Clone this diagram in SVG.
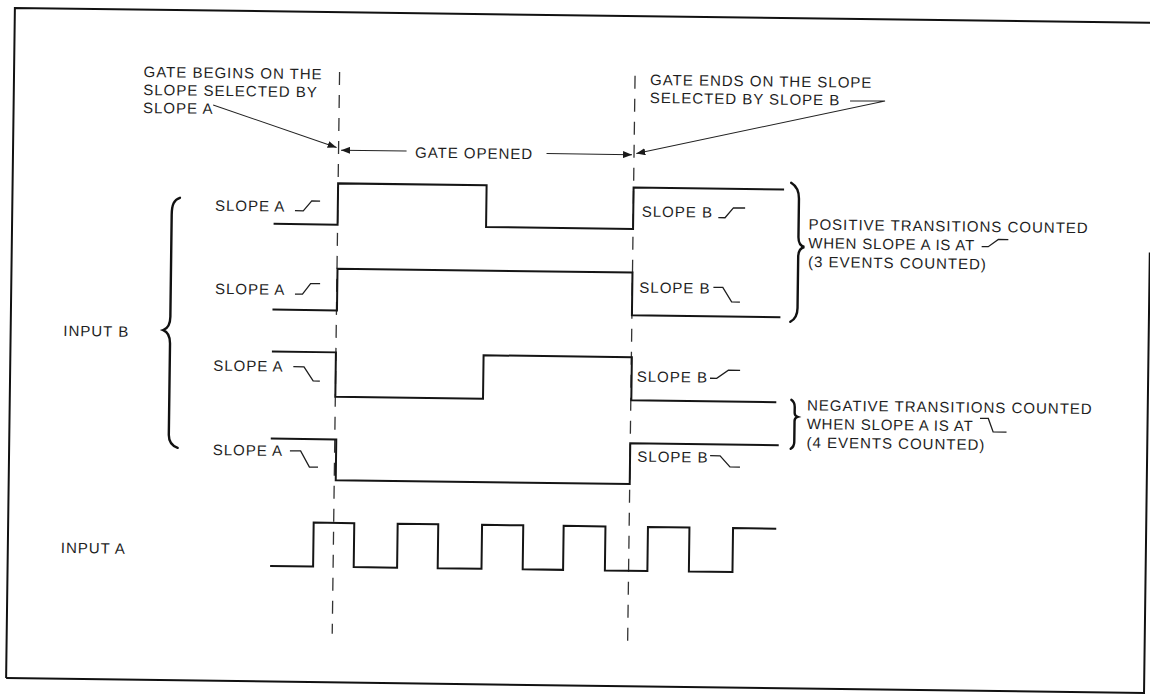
<svg xmlns="http://www.w3.org/2000/svg" width="1150" height="694" viewBox="0 0 1150 694">
<defs>
<style>
.w{fill:none;stroke:#151515;stroke-width:2;stroke-linejoin:miter}
.d{fill:none;stroke:#333;stroke-width:1.3;stroke-dasharray:13 10}
.t{font-family:"Liberation Sans",Arial,sans-serif;font-size:15px;letter-spacing:1px;fill:#1e1e1e}
.ic{fill:none;stroke:#1e1e1e;stroke-width:1.3}
.br{fill:none;stroke:#111;stroke-width:2.4;stroke-linecap:round}
.cl{fill:none;stroke:#222;stroke-width:1}
.fr{fill:none;stroke:#111;stroke-width:2}
</style>
<marker id="ah" viewBox="0 0 9 7" refX="9" refY="3.5" markerWidth="9" markerHeight="7" markerUnits="userSpaceOnUse" orient="auto">
<path d="M0,0 L9,3.5 L0,7 z" fill="#1a1a1a"/>
</marker>
</defs>
<rect width="1150" height="694" fill="#fff"/>
<g id="diagram" transform="rotate(0.75 575 347)">
<g id="frame">
<path class="fr" d="M10.5,685.5 V15.3 H1148.5"/>
<path class="fr" d="M10.5,685.5 H1148.5 V245"/>
</g>
<g id="gate-lines">
<line class="d" x1="336" y1="75" x2="336" y2="637"/>
<line class="d" x1="631.5" y1="75" x2="631.5" y2="640"/>
</g>
<g id="note-gate-begins">
<text class="t" x="140" y="82.7">GATE BEGINS ON THE</text>
<text class="t" x="140" y="100.7">SLOPE SELECTED BY</text>
<text class="t" x="140" y="118.7">SLOPE A</text>
</g>
<g id="note-gate-ends">
<text class="t" x="646.6" y="84">GATE ENDS ON THE SLOPE</text>
<text class="t" x="646.6" y="102">SELECTED BY SLOPE B</text>
</g>
<g id="gate-opened">
<text class="t" x="412.5" y="159.8">GATE OPENED</text>
</g>
<g id="input-b">
<text class="t" x="63.2" y="342.7">INPUT B</text>
<path class="br" d="M178,203 C172,205 170,210 170,220 L170,322 C170,330 167,334 163,335.5 C167,337 170,341 170,349 L170,440 C170,447 173,451 179,453"/>
</g>
<g id="row1">
<text class="t" x="213.2" y="215.4">SLOPE A</text>
<path class="ic" d="M293.2,214.4 H301.5 L309.9,204.4 H318.2"/>
<path class="w" d="M272,227.8 H336 V186.5 H484.5 V228.2 H631.5 V186.7 H782"/>
<text class="t" x="640" y="215.8">SLOPE B</text>
<path class="ic" d="M716.6,215.8 H723.3 L731.6,205.8 H743.3"/>
</g>
<g id="row2">
<text class="t" x="214.3" y="298.7">SLOPE A</text>
<path class="ic" d="M294.3,297.7 H301.8 L309.8,287 H319.3"/>
<path class="w" d="M272,313.5 H336.5 V271.8 H631.5 V314.5 H780"/>
<text class="t" x="638.6" y="291.8">SLOPE B</text>
<path class="ic" d="M712.6,285.5 H722 L731,299.9 H739.3"/>
</g>
<g id="row3">
<text class="t" x="213.6" y="375.4">SLOPE A</text>
<path class="ic" d="M293.6,370.4 H304.3 L313.6,384.4 H320.3"/>
<path class="w" d="M272,355.5 H336 V400 H483.7 V356.5 H632 V399.5 H777"/>
<text class="t" x="637.2" y="380.9">SLOPE B</text>
<path class="ic" d="M710.4,376.5 H717.1 L728.7,368.2 H740.4"/>
</g>
<g id="row4">
<text class="t" x="214.2" y="459.8">SLOPE A</text>
<path class="ic" d="M291.3,454.5 H302 L311,470.5 H319.6"/>
<path class="w" d="M272,442.5 H337.5 V483.3 H631.5 V442.5 H780"/>
<text class="t" x="638.8" y="460.9">SLOPE B</text>
<path class="ic" d="M711.5,453.9 H721.5 L731.5,464.9 H741.5"/>
</g>
<g id="positive-note">
<path class="br" d="M789,180 C794,183 797,188 797,196 L797,234 C797,240 799,243 803,244 C799,245 797,248 797,254 L797,305 C797,312 795,316 790,319"/>
<text class="t" x="806.9" y="226.5">POSITIVE TRANSITIONS COUNTED</text>
<text class="t" x="806.9" y="245.2" textLength="167" lengthAdjust="spacing">WHEN SLOPE A IS AT</text>
<path class="ic" d="M980.3,241.3 H986.9 L996.9,233.9 H1006.9"/>
<text class="t" x="806.9" y="264">(3 EVENTS COUNTED)</text>
</g>
<g id="negative-note">
<path class="br" d="M792,397 C795,399 795.5,401 795.5,404 L795.5,410 C795.5,412 797,413.5 798.5,414 C797,414.5 795.5,416 795.5,418 L795.5,439 C795.5,442 795,444 792,446"/>
<text class="t" x="807.7" y="407.4">NEGATIVE TRANSITIONS COUNTED</text>
<text class="t" x="807.7" y="426" textLength="167" lengthAdjust="spacing">WHEN SLOPE A IS AT</text>
<path class="ic" d="M980.9,413 H989.2 L994.2,426.4 H1007.6"/>
<text class="t" x="807.7" y="444.6">(4 EVENTS COUNTED)</text>
</g>
<g id="input-a">
<text class="t" x="63.5" y="559.7">INPUT A</text>
<path class="w" d="M273,570 H316 V526 H356.6 V570 H400 V526 H440.6 V570 H484.4 V526 H525.6 V570 H566 V526 H607.8 V570 H650.3 V526 H691.8 V570 H735.4 V526 H778.6"/>
</g>
<g id="connectors">
<line class="cl" x1="210" y1="109.7" x2="334" y2="150.6" marker-end="url(#ah)"/>
<line class="cl" x1="404" y1="153.3" x2="338.5" y2="153.3" marker-end="url(#ah)"/>
<line class="cl" x1="544" y1="154" x2="629.5" y2="154" marker-end="url(#ah)"/>
<polyline class="cl" points="846.8,97.4 881.8,97 633.8,152.8" marker-end="url(#ah)"/>
</g>
</g>
</svg>
